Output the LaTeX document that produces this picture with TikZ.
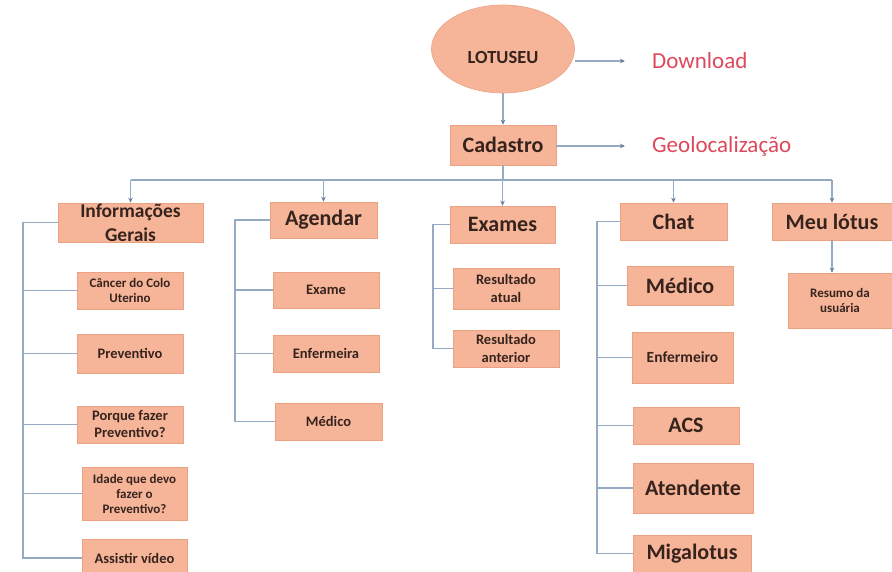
\documentclass[tikz,border=0pt]{standalone}
\usepackage{fontspec}
\setmainfont{Carlito}
\usetikzlibrary{shapes.geometric,arrows.meta}
\definecolor{boxfill}{RGB}{246,181,152}
\definecolor{boxedge}{RGB}{236,162,130}
\definecolor{txt}{RGB}{55,35,30}
\definecolor{redtxt}{RGB}{222,72,92}
\definecolor{lin}{RGB}{150,170,196}
\definecolor{tip}{RGB}{105,125,158}
\begin{document}
\begin{tikzpicture}[x=1pt,y=-1pt,
  box/.style={rectangle, fill=boxfill, draw=boxedge, line width=0.6pt, inner sep=0pt, align=center, text=txt},
  head/.style={box, font=\fontsize{22}{26}\selectfont\bfseries},
  sub/.style={box, font=\fontsize{14.5}{17}\selectfont\bfseries},
  subs/.style={box, font=\fontsize{13}{15}\selectfont\bfseries},
  conn/.style={draw=lin, line width=1.2pt},
  arr/.style={conn, -{Stealth[length=5pt,width=4.5pt,color=tip]}},
  redlab/.style={text=redtxt, font=\fontsize{23}{26}\selectfont, inner sep=0pt, anchor=west}]
\useasboundingbox (0,0) rectangle (892,572);
\fill[white] (0,0) rectangle (892,572);

% top
\node[ellipse, fill=boxfill, draw=boxedge, line width=0.6pt, minimum width=143pt, minimum height=88pt, inner sep=0pt] (lotus) at (503,49) {};
\node[text=txt, font=\fontsize{18.5}{20}\selectfont\bfseries, inner sep=0pt] (lotustxt) at (503,58) {LOTUSEU};
\node[redlab] (dl) at (652,61) {Download};
\node[head, minimum width=106pt, minimum height=40pt] (cad) at (503,145) {Cadastro};
\node[redlab] (geo) at (652,146) {Geolocalização};

% heads
\node[head, font=\fontsize{19.5}{24}\selectfont\bfseries, minimum width=145pt, minimum height=39pt] (info) at (130.5,222.5) {Informações\\Gerais};
\node[head, minimum width=107pt, minimum height=36pt] (ag) at (323.5,220) {Agendar};
\node[head, minimum width=105pt, minimum height=37pt] (ex) at (502.5,224.5) {Exames};
\node[head, minimum width=107pt, minimum height=37pt] (chat) at (673.5,221.5) {Chat};
\node[head, minimum width=120pt, minimum height=37pt] (meu) at (832,221.5) {Meu lótus};

% info column
\node[subs, minimum width=106pt, minimum height=37pt] (c1) at (130,290.5) {Câncer do Colo\\Uterino};
\node[sub, minimum width=106pt, minimum height=39pt] (c2) at (130,353.5) {Preventivo};
\node[sub, minimum width=106pt, minimum height=37pt] (c3) at (130,424.5) {Porque fazer\\Preventivo?};
\node[subs, minimum width=105pt, minimum height=53pt] (c4) at (134.5,493.5) {Idade que devo\\fazer o\\Preventivo?};
\node[sub, minimum width=105pt, minimum height=38pt] (c5) at (134.5,558) {Assistir vídeo};

% agendar column
\node[sub, minimum width=106pt, minimum height=36pt] (a1) at (326,290) {Exame};
\node[sub, minimum width=106pt, minimum height=37pt] (a2) at (326,353.5) {Enfermeira};
\node[sub, minimum width=107pt, minimum height=37pt] (a3) at (328.5,421.5) {Médico};

% exames column
\node[sub, font=\fontsize{14.5}{18}\selectfont\bfseries, minimum width=106pt, minimum height=41pt] (e1) at (506,288.5) {Resultado\\atual};
\node[sub, font=\fontsize{14.5}{18}\selectfont\bfseries, minimum width=106pt, minimum height=37pt] (e2) at (506,348.5) {Resultado\\anterior};

% chat column
\node[head, minimum width=106pt, minimum height=39pt] (h1) at (680,285.5) {Médico};
\node[sub, font=\fontsize{15.5}{18}\selectfont\bfseries, minimum width=101pt, minimum height=51pt] (h2) at (682.5,357.5) {Enfermeiro};
\node[head, minimum width=106pt, minimum height=37pt] (h3) at (686,425.5) {ACS};
\node[head, minimum width=120pt, minimum height=50pt] (h4) at (693,488) {Atendente};
\node[head, minimum width=118pt, minimum height=37pt] (h5) at (692,553.5) {Migalotus};

% meu lotus
\node[subs, minimum width=104pt, minimum height=55pt] (res) at (840,300.5) {Resumo da\\usuária};

% top connectors
\draw[arr] (lotus.south) -- (cad.north);
\draw[arr, shorten >=27pt] (lotus.east |- dl.west) -- (dl.west);
\draw[arr, shorten >=27pt] (cad.east |- geo.west) -- (geo.west);

% bus
\coordinate (bus) at (0,180);
\draw[conn] (cad.south) -- (cad.south |- bus);
\draw[conn] (info.north |- bus) -- (meu.north |- bus);
\foreach \n in {info,ag,ex,chat,meu} \draw[arr] (\n.north |- bus) -- (\n.north);

% columns
\coordinate (vI) at (23,0);
\draw[conn] (info.west) -- (info.west -| vI) -- (vI |- c5.west) -- (c5.west);
\foreach \n in {c1,c2,c3,c4} \draw[conn] (vI |- \n.west) -- (\n.west);

\coordinate (vA) at (235,0);
\draw[conn] (ag.west) -- (ag.west -| vA) -- (vA |- a3.west) -- (a3.west);
\foreach \n in {a1,a2} \draw[conn] (vA |- \n.west) -- (\n.west);

\coordinate (vE) at (433,0);
\draw[conn] (ex.west) -- (ex.west -| vE) -- (vE |- e2.west) -- (e2.west);
\draw[conn] (vE |- e1.west) -- (e1.west);

\coordinate (vC) at (597,0);
\draw[conn] (chat.west) -- (chat.west -| vC) -- (vC |- h5.west) -- (h5.west);
\foreach \n in {h1,h2,h3,h4} \draw[conn] (vC |- \n.west) -- (\n.west);

\draw[arr] (meu.south) -- (meu.south |- res.north);
\end{tikzpicture}
\end{document}
